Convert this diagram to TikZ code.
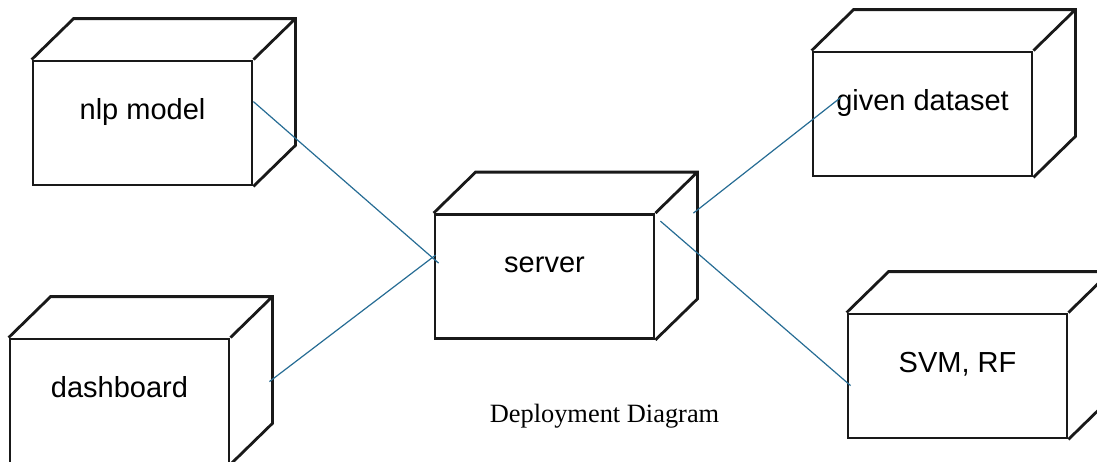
\documentclass[tikz,border=0pt]{standalone}
\usepackage{fontspec}
\setmainfont{Liberation Serif}
\newfontfamily\boxfont{Liberation Sans}
\usetikzlibrary{calc}
\definecolor{linkblue}{RGB}{38,108,148}

\begin{document}
\begin{tikzpicture}[x=0.5pt,y=-0.5pt,
  box/.style={draw=black!90, line width=1.4pt},
  devface/.style={box, minimum width=109.5pt, minimum height=62pt, inner sep=0pt,
    font=\boxfont\fontsize{14.5}{17}\selectfont, text height=10pt, text depth=14pt},
  link/.style={linkblue, line width=0.6pt}]
\useasboundingbox (0,0) rectangle (1097,461);

% front faces of the devices
\node[devface] (nlp) at (142.5,123) {nlp model};
\node[devface] (dash) at (119.5,401) {dashboard};
\node[devface] (server) at (544.5,276.5) {server};
\node[devface] (data) at (922.5,114) {given dataset};
\node[devface] (svm) at (957.5,376) {SVM, RF};

% top and side faces
\foreach \n in {nlp,dash,server,data,svm}
  \draw[box] (\n.north west) -- ++(42,-41) -- ($(\n.north east)+(42,-41)$)
    -- ($(\n.south east)+(42,-41)$) -- (\n.south east)
    (\n.north east) -- ++(42,-41);

% ends of the links
\coordinate (nlp-out) at ($(nlp.north east)+(0,42)$);
\coordinate (dash-out) at ($(dash.north east)+(39,44)$);
\coordinate (server-nlp) at ($(server.north west)+(5,50)$);
\coordinate (server-dash) at ($(server.north west)+(2,42)$);
\coordinate (server-data) at ($(server.north east)+(38,0)$);
\coordinate (server-svm) at ($(server.north east)+(5,8)$);
\coordinate (data-in) at ($(data.north west)+(29,47)$);
\coordinate (svm-in) at ($(svm.north west)+(4,73)$);

\draw[link] (nlp-out) -- (server-nlp);
\draw[link] (dash-out) -- (server-dash);
\draw[link] (server-data) -- (data-in);
\draw[link] (server-svm) -- (svm-in);

\node[anchor=base, font=\fontsize{13.2}{16}\selectfont] (caption) at (604.5,422) {Deployment Diagram};

\end{tikzpicture}
\end{document}
